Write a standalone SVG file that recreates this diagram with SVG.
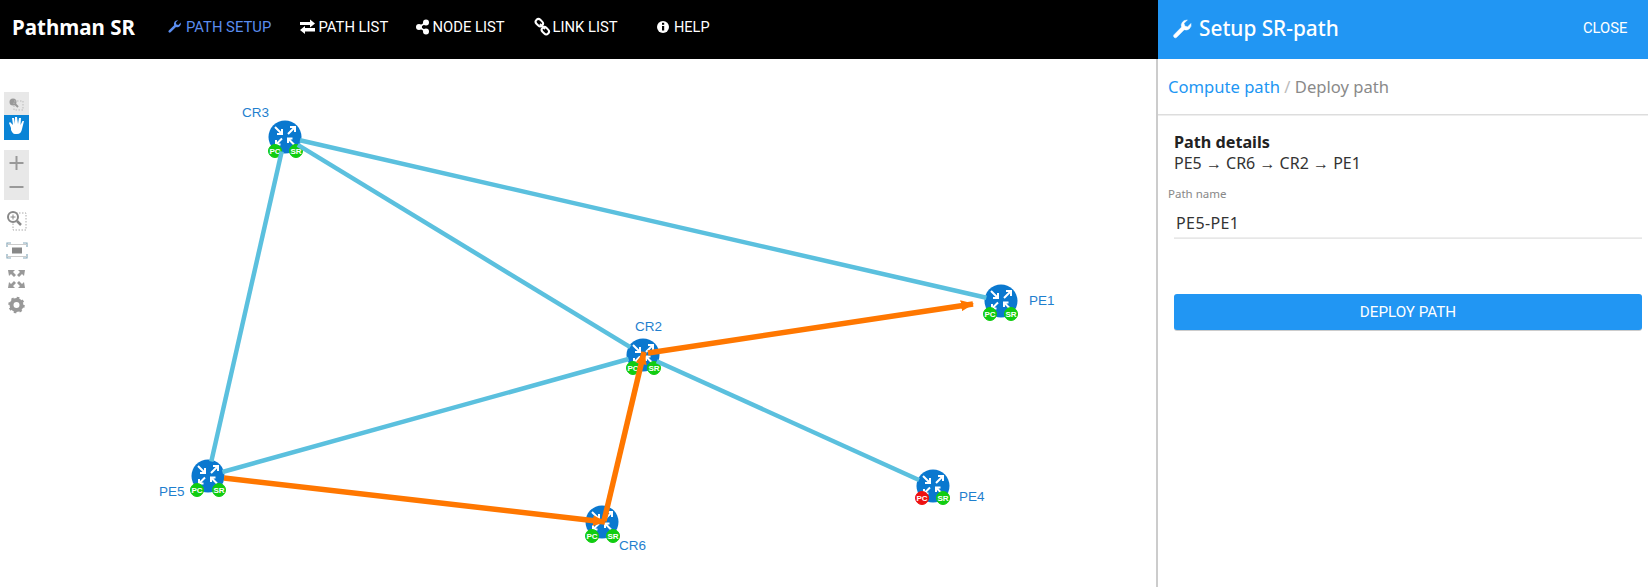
<svg xmlns="http://www.w3.org/2000/svg" width="1648" height="587" viewBox="0 0 1648 587">
<style>
text{font-family:"Roboto","Noto Sans","Liberation Sans",sans-serif}
.nav{font-size:14.8px;fill:#fff}
.lbl{font-family:"Liberation Sans",Arial,sans-serif;font-size:13.5px;fill:#1f7fce}
.blue{stroke:#5bc0de;stroke-width:4.500;fill:none}
.or{stroke:#ff7700;stroke-width:5.500;fill:none}
.badge{font-family:"Liberation Sans",sans-serif;font-size:8px;font-weight:bold;fill:#fff;text-anchor:middle}
.pc{fill:#11cc11;stroke:#11cc11;stroke-width:1}
.pd{fill:#ee1111;stroke:#ee1111;stroke-width:1}
.ns{font-family:"Noto Sans",Roboto,sans-serif}
.arr{font-family:"Liberation Sans",sans-serif}
</style>
<defs>
<g id="router">
<circle r="16.500" fill="#0a78cf"/>
<g stroke="#fff" stroke-width="2" fill="none">
<path d="M-10-10L-3-3M-3-8V-3H-8"/>
<path d="M3-3L10-10M5-10H10V-5"/>
<path d="M-3 1.500L-9 7.500M-9 3V7.500H-4.500"/>
<path d="M9 7.500L3 1.500M3 6V1.500H7.500"/>
</g>
</g>
<path id="wrench" d="M12 1.500a4.600 4.600 0 0 0-4.300 6.200L1 14.400a1.600 1.600 0 0 0 2.300 2.300l6.700-6.700A4.600 4.600 0 0 0 16 4.500l-3 3-2.500-.7-.7-2.500 3-3z"/>
<marker id="ah" viewBox="0 0 12 10" refX="11" refY="5" markerWidth="2.400" markerHeight="2" orient="auto"><path d="M0 0L12 5L0 10z" fill="#ff7700"/></marker>
</defs>

<rect width="1648" height="587" fill="#fff"/>
<rect width="1158" height="59" fill="#000"/>
<text x="12" y="35" font-size="20.500" font-weight="700" fill="#fff" class="ns">Pathman SR</text>
<g id="nav">
<use href="#wrench" transform="translate(168 19) scale(.8)" fill="#5b8def"/>
<text x="186" y="32" class="nav" style="fill:#5b8def">PATH SETUP</text>
<path d="M300 22h10v-2.500l5 4-5 4v-2.500h-10zM315 28v3.500h-10v2.500l-5-4 5-4v2z" fill="#fff"/>
<text x="318.500" y="32" class="nav">PATH LIST</text>
<g fill="#fff"><circle cx="419" cy="27" r="3"/><circle cx="426" cy="22.500" r="3"/><circle cx="426" cy="31.500" r="3"/><path d="M419 27L426 22.500M419 27L426 31.500" stroke="#fff" stroke-width="1.500"/></g>
<text x="432.500" y="32" class="nav">NODE LIST</text>
<g fill="none" stroke="#fff" stroke-width="2"><rect x="535.500" y="20" width="8" height="5.500" rx="2.700" transform="rotate(45 539.500 22.500)"/><rect x="541.500" y="28" width="8" height="5.500" rx="2.700" transform="rotate(45 545.500 30.500)"/><path d="M540 24L545 29"/></g>
<text x="552.500" y="32" class="nav">LINK LIST</text>
<circle cx="663" cy="27" r="6" fill="#fff"/><rect x="662" y="26" width="2.200" height="4.500" fill="#000"/><rect x="662" y="22.800" width="2.200" height="2" fill="#000"/>
<text x="674" y="32" font-size="14.500" fill="#fff">HELP</text>
</g>

<g id="toolbar">
<rect x="4" y="92" width="25" height="23" fill="#e8e8e8"/>
<circle cx="13" cy="102" r="3.500" fill="#999"/><path d="M15 104l3 3" stroke="#999" stroke-width="2"/><rect x="14" y="101" width="9" height="9" fill="none" stroke="#bbb" stroke-dasharray="1.500 1.500"/>
<rect x="4" y="115" width="25" height="25" fill="#0a84d6"/>
<path d="M11 128L9 123l1-1 3 3-1-7h2l1 6 0-7h2l1 7 1-6h2l-.5 7 2-4h1.500l-2 8c-.5 3-2 5-5 5h-2c-2 0-3-2-4-4z" fill="#fff"/>
<rect x="4" y="150" width="25" height="50" fill="#e8e8e8"/>
<path d="M16.500 156v14M9.500 163h14M9.500 187h14" stroke="#999" stroke-width="2" fill="none"/>
<rect x="13" y="213" width="13" height="17" fill="none" stroke="#aaa" stroke-dasharray="1.500 1.500"/>
<circle cx="13" cy="217" r="5" fill="#fff" stroke="#888" stroke-width="2"/><path d="M17 221l4 4" stroke="#888" stroke-width="2.500"/><path d="M10.500 217h5M13 214.500v5" stroke="#888"/>
<path d="M7 247v-4h4M23 243h4v4M27 254v4h-4M11 258h-4v-4" fill="none" stroke="#8ab" stroke-width="1.200"/><path d="M7 244.500h20M7 256.500h20" stroke="#ccc"/><rect x="12" y="247.500" width="10" height="6" fill="#888"/>
<g fill="#999"><path d="M8 270h7l-2 2 3 3-2 2-3-3-2 2-1-6z"/><path d="M25 270h-7l2 2-3 3 2 2 3-3 2 2 1-6z"/><path d="M8 288h7l-2-2 3-3-2-2-3 3-2-2-1 6z"/><path d="M25 288h-7l2-2-3-3 2-2 3 3 2-2 1 6z"/></g>
<circle cx="16.500" cy="305" r="5" fill="none" stroke="#999" stroke-width="4"/><circle cx="16.500" cy="305" r="7" fill="none" stroke="#999" stroke-width="2.500" stroke-dasharray="2.500 3"/>
</g>

<g id="node-CR3"><use href="#router" x="285" y="137"/><circle cx="275" cy="151" r="6.500" class="pc"/><text x="275" y="154" class="badge">PC</text><circle cx="296" cy="151" r="6.500" class="pc"/><text x="296" y="154" class="badge">SR</text><text x="242" y="117" class="lbl">CR3</text></g>
<g id="node-PE1"><use href="#router" x="1001" y="301"/><circle cx="990" cy="314" r="6.500" class="pc"/><text x="990" y="317" class="badge">PC</text><circle cx="1011" cy="314" r="6.500" class="pc"/><text x="1011" y="317" class="badge">SR</text><text x="1029" y="305" class="lbl">PE1</text></g>
<g id="node-CR2"><use href="#router" x="643" y="355"/><circle cx="633" cy="368" r="6.500" class="pc"/><text x="633" y="371" class="badge">PC</text><circle cx="654" cy="368" r="6.500" class="pc"/><text x="654" y="371" class="badge">SR</text><text x="635" y="331" class="lbl">CR2</text></g>
<g id="node-PE5"><use href="#router" x="208" y="476"/><circle cx="197" cy="490" r="6.500" class="pc"/><text x="197" y="493" class="badge">PC</text><circle cx="219" cy="490" r="6.500" class="pc"/><text x="219" y="493" class="badge">SR</text><text x="159" y="496" class="lbl">PE5</text></g>
<g id="node-CR6"><use href="#router" x="602" y="522"/><circle cx="592" cy="536" r="6.500" class="pc"/><text x="592" y="539" class="badge">PC</text><circle cx="613" cy="536" r="6.500" class="pc"/><text x="613" y="539" class="badge">SR</text><text x="619" y="550" class="lbl">CR6</text></g>
<g id="node-PE4"><use href="#router" x="933" y="486"/><circle cx="922" cy="498" r="6.500" class="pd"/><text x="922" y="501" class="badge">PC</text><circle cx="943" cy="498" r="6.500" class="pc"/><text x="943" y="501" class="badge">SR</text><text x="959" y="501" class="lbl">PE4</text></g>

<g id="connectors">
<path class="blue" d="M300 140.300L986.400 297.700"/>
<path class="blue" d="M297.800 144.800L630.200 347.200"/>
<path class="blue" d="M281.700 151.600L211.300 461.400"/>
<path class="blue" d="M222.400 472L628.600 359"/>
<path class="blue" d="M656.700 361.200L919 480"/>
<path class="or" marker-end="url(#ah)" d="M224 478L605 522"/>
<path class="or" marker-end="url(#ah)" d="M604 521L644 352"/>
<path class="or" marker-end="url(#ah)" d="M648 353L973 304"/>
</g>

<g id="panel">
<rect x="1156" y="59" width="2" height="528" fill="#ccc"/>
<rect x="1158" width="490" height="59" fill="#2196f3"/>
<use href="#wrench" transform="translate(1173 18.500) scale(1.120)" fill="#fff" stroke="#fff" stroke-width=".5"/>
<text x="1199" y="36" font-size="20.800" font-weight="500" fill="#fff" class="ns">Setup SR-path</text>
<text x="1627.500" y="33" font-size="14.800" fill="#fff" text-anchor="end">CLOSE</text>
<text x="1168" y="93" font-size="16.600" class="ns" fill="#2196f3">Compute path <tspan fill="#bbb">/</tspan> <tspan fill="#8a8a8a">Deploy path</tspan></text>
<rect x="1158" y="114" width="490" height="1.500" fill="#ddd"/>
<text x="1174" y="148" font-size="16.200" font-weight="700" fill="#222" class="ns">Path details</text>
<text x="1174" y="169" font-size="16" fill="#333" class="ns">PE5 <tspan class="arr">→</tspan> CR6 <tspan class="arr">→</tspan> CR2 <tspan class="arr">→</tspan> PE1</text>
<text x="1168" y="198" font-size="11.500" fill="#888" class="ns">Path name</text>
<text x="1176" y="229" font-size="16" fill="#333" class="ns" letter-spacing=".4">PE5-PE1</text>
<rect x="1174" y="237.500" width="468" height="1.200" fill="#ddd"/>
<rect x="1174" y="295" width="468" height="36" rx="3" fill="#ccc"/>
<rect x="1174" y="294" width="468" height="36" rx="3" fill="#2196f3"/>
<text x="1408" y="317" font-size="15.200" fill="#fff" text-anchor="middle">DEPLOY PATH</text>
</g>
</svg>
